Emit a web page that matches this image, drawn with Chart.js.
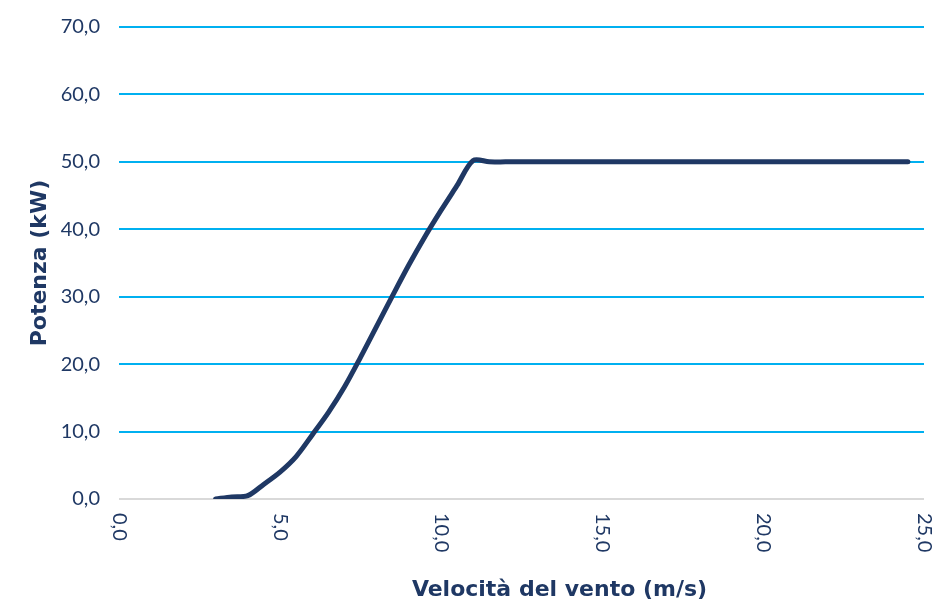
<!DOCTYPE html>
<html>
<head>
<meta charset="utf-8">
<script src="https://cdn.jsdelivr.net/npm/chart.js@4.4.1/dist/chart.umd.min.js"></script>
<style>
  html, body { margin: 0; padding: 0; background: #ffffff; }
  #wrap { width: 935px; height: 603px; }
</style>
</head>
<body>
<div id="wrap"><canvas id="c" width="935" height="603"></canvas></div>
<script>
// Wind speed (m/s)
const windSpeeds = [3, 3.5, 4, 4.5, 5, 5.5, 6, 6.5, 7, 7.5, 8, 8.5, 9, 9.5, 10, 10.5, 11, 11.5,
  12, 12.5, 13, 13.5, 14, 14.5, 15, 15.5, 16, 16.5, 17, 17.5, 18, 18.5, 19, 19.5, 20, 20.5,
  21, 21.5, 22, 22.5, 23, 23.5, 24, 24.5];
// Power (kW)
const powerKW = [0, 0.3, 0.5, 2.2, 4.0, 6.3, 9.5, 12.8, 16.6, 21.0, 25.6, 30.2, 34.7, 38.9, 42.8, 46.5, 50.2, 50.0,
  50, 50, 50, 50, 50, 50, 50, 50, 50, 50, 50, 50, 50, 50, 50, 50, 50, 50,
  50, 50, 50, 50, 50, 50, 50, 50];
const xTickValues = [0, 5, 10, 15, 20, 25];
const yTickValues = [0, 10, 20, 30, 40, 50, 60, 70];
const xTitle = 'Velocità del vento (m/s)';
const yTitle = 'Potenza (kW)';

const NAVY = '#1F3864';
const fmt = v => Number(v).toFixed(1).replace('.', ',');

const rotatedXLabels = {
  id: 'rotatedXLabels',
  afterDraw(chart) {
    const xs = chart.scales.x;
    const ctx = chart.ctx;
    ctx.save();
    ctx.font = '20px Lato';
    ctx.fillStyle = NAVY;
    ctx.textAlign = 'left';
    ctx.textBaseline = 'middle';
    xs.ticks.forEach(t => {
      const px = xs.getPixelForValue(t.value);
      ctx.save();
      ctx.translate(px, xs.top + 14);
      ctx.rotate(Math.PI / 2);
      ctx.fillText(fmt(t.value), 0, 0);
      ctx.restore();
    });
    ctx.restore();
  }
};

function shiftTitle(scale, dx) {
  if (scale._titleShifted) return;
  const orig = Object.getPrototypeOf(scale).drawTitle;
  scale.drawTitle = function () {
    this.ctx.save();
    this.ctx.translate(dx, 0);
    orig.call(this);
    this.ctx.restore();
  };
  scale._titleShifted = true;
}

new Chart(document.getElementById('c'), {
  type: 'line',
  data: {
    datasets: [{
      data: windSpeeds.map((s, i) => ({ x: s, y: powerKW[i] })),
      borderColor: NAVY,
      borderWidth: 5,
      borderCapStyle: 'round',
      borderJoinStyle: 'round',
      pointRadius: 0,
      tension: 0.3,
      fill: false
    }]
  },
  options: {
    responsive: false,
    animation: false,
    layout: { padding: { left: 10, right: 11, top: 27, bottom: 0 } },
    plugins: { legend: { display: false }, tooltip: { enabled: false } },
    scales: {
      x: {
        type: 'linear',
        min: 0, max: 25,
        afterBuildTicks: s => { s.ticks = xTickValues.map(v => ({ value: v })); },
        afterFit: s => { s.height = 104; s.paddingLeft = 0; s.paddingRight = 0; shiftTitle(s, 38); },
        grid: { display: false, drawTicks: false },
        border: { display: false },
        ticks: {
          color: 'rgba(0,0,0,0)',
          font: { family: 'Lato', size: 20 },
          minRotation: 90, maxRotation: 90,
          padding: 14,
          callback: v => fmt(v)
        },
        title: {
          display: true, text: xTitle, color: NAVY,
          font: { family: 'DejaVu Sans', size: 22, weight: 'bold' },
          padding: { top: 0, bottom: 0 }
        }
      },
      y: {
        min: 0, max: 70,
        afterBuildTicks: s => { s.ticks = yTickValues.map(v => ({ value: v })); },
        afterFit: s => { s.width = 109; s.paddingTop = 0; s.paddingBottom = 0; },
        grid: {
          drawTicks: false,
          color: ctx => ctx.tick && ctx.tick.value === 0 ? '#D9D9D9' : '#00B0F0',
          lineWidth: 2
        },
        border: { display: false },
        ticks: {
          color: NAVY,
          font: { family: 'Lato', size: 20 },
          padding: 19,
          callback: v => fmt(v)
        },
        title: {
          display: true, text: yTitle, color: NAVY,
          font: { family: 'DejaVu Sans', size: 22, weight: 'bold' },
          padding: { top: 17, bottom: 0 }
        }
      }
    }
  },
  plugins: [rotatedXLabels]
});
</script>
</body>
</html>
